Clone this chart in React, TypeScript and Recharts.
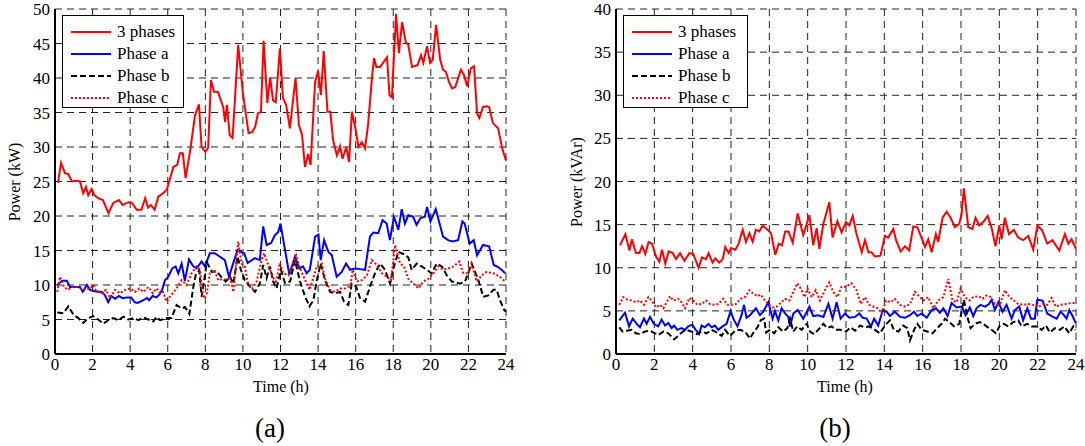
import React from 'react';
import { LineChart, Line, XAxis, YAxis, CartesianGrid } from 'recharts';

// time (h) vs power
const timeTicks = [0, 2, 4, 6, 8, 10, 12, 14, 16, 18, 20, 22, 24];
const kwTicks = [0, 5, 10, 15, 20, 25, 30, 35, 40, 45, 50];
const kvarTicks = [0, 5, 10, 15, 20, 25, 30, 35, 40];

const legendNames = ['3 phases', 'Phase a', 'Phase b', 'Phase c'];

// (a) active power, kW
const kwTotal: [number, number][] = [
  [0.16, 24.8], [0.32, 27.7], [0.53, 26.2], [0.7, 26.1], [0.9, 25], [1.1, 25.1], [1.33, 25], [1.5, 23.3], [1.65, 24.2], [1.77, 23],
  [1.95, 23.9], [2.1, 23], [2.3, 22.6], [2.55, 22.3], [2.85, 20.4], [3.1, 21.9], [3.4, 22.3], [3.6, 21.6], [3.9, 22], [4.1, 21.9],
  [4.35, 20.9], [4.6, 20.9], [4.8, 22.6], [4.95, 21.2], [5.1, 21.6], [5.3, 20.9], [5.5, 22.8], [5.75, 23.3], [5.95, 23.8], [6.3, 27.1],
  [6.5, 27.4], [6.65, 29.1], [6.8, 29.1], [6.95, 25.5], [7.2, 29.6], [7.45, 34.6], [7.66, 36.2], [7.8, 30], [8.0, 29.3], [8.15, 29.9],
  [8.3, 39.7], [8.46, 38], [8.67, 38], [8.95, 35.8], [9.05, 33.6], [9.15, 36.1], [9.3, 31.7], [9.45, 31.3], [9.75, 44.8], [10.0, 37.8],
  [10.3, 32], [10.5, 32.2], [10.65, 32.9], [10.8, 34.9], [10.96, 35.1], [11.1, 45.4], [11.3, 36.4], [11.45, 40.1], [11.6, 36.8], [11.75, 36.5],
  [11.97, 44.3], [12.13, 37.1], [12.3, 36.1], [12.5, 32.7], [12.8, 40], [12.98, 33.2], [13.15, 31.7], [13.3, 27.1], [13.47, 29], [13.6, 27.4],
  [13.84, 39.4], [14, 41], [14.15, 37.5], [14.3, 43.9], [14.5, 35.1], [14.65, 35.1], [14.8, 31], [15, 28.8], [15.17, 30.1], [15.3, 28.3],
  [15.5, 30], [15.65, 27.8], [15.8, 35.1], [16, 32.5], [16.15, 30], [16.33, 30.7], [16.5, 29.8], [16.66, 33.2], [16.87, 40.1], [16.98, 42.9],
  [17.1, 41.6], [17.3, 41.6], [17.56, 42.6], [17.67, 43], [17.8, 37.5], [17.93, 37.2], [18.15, 49.3], [18.3, 43.6], [18.47, 48.1], [18.67, 45.2],
  [18.8, 44.8], [19, 41.6], [19.3, 41.9], [19.48, 43.3], [19.6, 42.2], [19.8, 44.6], [19.96, 42.2], [20.1, 42.6], [20.28, 47.7], [20.5, 42.6],
  [20.65, 41.2], [20.8, 40.9], [20.97, 39.4], [21.13, 38.5], [21.3, 38.7], [21.6, 41.2], [21.77, 40.4], [21.93, 38.8], [22.13, 41.4], [22.3, 41.7],
  [22.46, 34.9], [22.58, 34.2], [22.78, 35.8], [22.98, 35.9], [23.1, 35.8], [23.3, 33.5], [23.58, 32.7], [23.8, 29.8], [24, 28],
];

const kwPhaseA: [number, number][] = [
  [0.12, 10], [0.37, 10.6], [0.63, 10.6], [0.8, 9.7], [1.33, 9.7], [1.48, 9], [1.7, 10], [1.86, 9.3], [2.1, 9.1], [2.5, 9],
  [2.66, 8.5], [2.83, 7.5], [3, 8.4], [3.2, 8], [3.4, 8.4], [3.6, 8.1], [3.8, 8.2], [4.05, 8.2], [4.25, 7.5], [4.4, 7.4],
  [4.7, 7.8], [4.9, 8.1], [5, 7.8], [5.2, 8.4], [5.4, 8.2], [5.55, 8.6], [5.7, 9.3], [5.85, 10.7], [6.03, 11.2], [6.24, 12.4],
  [6.42, 12.7], [6.56, 11.7], [6.74, 13.1], [6.91, 10.6], [7.13, 13.7], [7.36, 12.7], [7.54, 12.4], [7.8, 13.4], [7.98, 12.7], [8.24, 14.6],
  [8.5, 14.6], [8.78, 14.1], [9.04, 13.6], [9.26, 11.2], [9.49, 13.2], [9.72, 15.1], [9.89, 14.8], [10.07, 14.6], [10.25, 13.2], [10.64, 13.9],
  [10.9, 13.6], [11.08, 18.5], [11.26, 15.8], [11.5, 16.1], [11.7, 17.2], [11.88, 17.7], [12.0, 18.9], [12.24, 15.1], [12.47, 11.5], [12.77, 14.1],
  [13, 12.4], [13.2, 12.7], [13.39, 11.7], [13.56, 12.2], [13.84, 17], [14.02, 17.3], [14.14, 13.6], [14.32, 16.5], [14.55, 14.8], [14.73, 14.3],
  [14.99, 11.2], [15.26, 11.9], [15.49, 13.1], [15.7, 12.2], [15.97, 12.4], [16.24, 12.3], [16.5, 12.2], [16.76, 17], [16.94, 17.6], [17.2, 17.5],
  [17.43, 19.4], [17.65, 18.9], [17.82, 16.5], [18.04, 19.9], [18.27, 18], [18.45, 21], [18.62, 18.9], [18.8, 20.1], [19.06, 19.9], [19.24, 18.7],
  [19.45, 19.7], [19.68, 19.9], [19.8, 21.3], [19.98, 19.2], [20.26, 21], [20.65, 17], [20.92, 16.5], [21.15, 16.3], [21.45, 16.5], [21.68, 19.2],
  [21.8, 18.9], [22.07, 16], [22.28, 16.5], [22.46, 14.3], [22.78, 15.8], [23.1, 15.6], [23.35, 12.9], [23.58, 12.6], [23.76, 12.2], [23.96, 11.7],
];

const kwPhaseB: [number, number][] = [
  [0.12, 6], [0.45, 5.9], [0.71, 6.9], [0.98, 5.7], [1.24, 5.2], [1.51, 4.5], [1.77, 5.2], [2.04, 5.5], [2.3, 5], [2.57, 4.4],
  [2.84, 4.9], [3.1, 5.2], [3.37, 4.9], [3.64, 5.4], [3.9, 5], [4.17, 5.2], [4.44, 4.9], [4.7, 5.3], [4.97, 5], [5.23, 4.7],
  [5.41, 5.4], [5.59, 4.9], [5.94, 5.2], [6.2, 5.2], [6.47, 7.1], [6.74, 6.6], [6.92, 6.8], [7.15, 5.8], [7.36, 9.7], [7.5, 11.6],
  [7.68, 12.1], [7.8, 8.3], [7.93, 10.5], [8.08, 13.3], [8.35, 11.9], [8.6, 12], [8.87, 11.1], [9.08, 10.5], [9.31, 11.2], [9.49, 10.2],
  [9.72, 14.1], [9.89, 12.2], [10.1, 10.7], [10.37, 9.8], [10.64, 9], [10.9, 10.2], [11.08, 12.9], [11.26, 11], [11.44, 12.7], [11.61, 10.5],
  [11.79, 9.5], [12.02, 12.2], [12.24, 10.3], [12.51, 10.5], [12.77, 13.6], [13.04, 10.5], [13.31, 8.3], [13.54, 6.9], [13.75, 7.8], [13.93, 10.7],
  [14.14, 13.1], [14.37, 10.7], [14.64, 9], [14.9, 8.8], [15.17, 9], [15.38, 7.6], [15.61, 7.1], [15.79, 10.2], [16.02, 9.8], [16.23, 8.1],
  [16.5, 7.6], [16.77, 9.8], [17.03, 11.7], [17.3, 13.1], [17.56, 12.2], [17.83, 10.2], [18.01, 12.4], [18.27, 14.8], [18.54, 14.5], [18.8, 14],
  [18.98, 12.2], [19.25, 13.1], [19.51, 12.7], [19.78, 12.2], [20.05, 11.7], [20.31, 13.1], [20.58, 12.7], [20.85, 11.4], [21.12, 10.5], [21.55, 10.2],
  [21.82, 10.5], [22.17, 13.1], [22.53, 10.7], [22.79, 8.3], [23.06, 8.5], [23.33, 9.3], [23.5, 9.3], [23.68, 7.8], [23.9, 6.4], [24, 6.1],
];

const kwPhaseC: [number, number][] = [
  [0.12, 9], [0.27, 11.2], [0.48, 9.7], [0.71, 9.3], [0.89, 9.7], [1.15, 9.7], [1.42, 9.5], [1.65, 9.3], [1.86, 9.5], [2.04, 10],
  [2.22, 9], [2.48, 8.8], [2.71, 9.3], [2.93, 8.1], [3.2, 9.3], [3.46, 8.8], [3.73, 9.3], [4, 9.5], [4.26, 9], [4.49, 9.5],
  [4.7, 9], [4.97, 9.7], [5.2, 8.8], [5.41, 9.5], [5.6, 8.8], [5.75, 9], [5.94, 7.6], [6.2, 8.6], [6.47, 9.5], [6.74, 10.7],
  [7, 10], [7.27, 11.7], [7.54, 12.7], [7.71, 12.2], [7.89, 8.1], [8.07, 8.6], [8.24, 11.7], [8.48, 12.2], [8.69, 10.7], [8.95, 10.9],
  [9.13, 10.7], [9.31, 11.2], [9.49, 9], [9.75, 16.3], [9.93, 13.1], [10.1, 12.7], [10.28, 10], [10.5, 9.5], [10.73, 10.5], [10.99, 13.6],
  [11.13, 14.6], [11.35, 12.9], [11.52, 11.7], [11.74, 10.2], [11.97, 13.2], [12.15, 11.7], [12.42, 11.4], [12.6, 12.7], [12.83, 14.3], [13.04, 12.4],
  [13.31, 10.7], [13.54, 9.3], [13.71, 10.7], [13.93, 12.7], [14.2, 13.1], [14.37, 10.9], [14.64, 9.3], [14.9, 9], [15.17, 9.5], [15.44, 9.5],
  [15.71, 9.8], [15.85, 12.2], [16.06, 10.5], [16.33, 10.7], [16.6, 11.4], [16.86, 13.6], [17.13, 12.9], [17.4, 11.7], [17.67, 11.2], [17.88, 10.7],
  [18.1, 15.8], [18.36, 13.1], [18.57, 12.7], [18.8, 10.9], [19.07, 10.2], [19.34, 9.5], [19.6, 10.5], [19.87, 10.9], [20.13, 11.7], [20.4, 12.7],
  [20.67, 12.2], [20.93, 12.4], [21.2, 12.7], [21.52, 13.4], [21.73, 11.7], [22, 11.7], [22.17, 13.1], [22.44, 10.5], [22.71, 11.4], [22.97, 11.9],
  [23.33, 11.7], [23.68, 11.2], [23.95, 10.5],
];

// (b) reactive power, kVAr
const kvarTotal: [number, number][] = [
  [0.21, 12.6], [0.49, 13.9], [0.7, 12], [0.83, 13.3], [1.04, 11.7], [1.22, 11.7], [1.36, 12.5], [1.53, 11.6], [1.7, 13], [1.88, 12.8],
  [2.09, 11.3], [2.26, 10.7], [2.4, 12.1], [2.57, 10.5], [2.75, 11.9], [2.96, 11.7], [3.13, 11], [3.34, 11.7], [3.57, 10.8], [3.83, 11.7],
  [4.03, 11.6], [4.31, 10], [4.49, 11.2], [4.7, 11], [4.83, 11.7], [5.04, 10.6], [5.18, 11.1], [5.39, 10.6], [5.57, 11], [5.7, 12.4],
  [5.88, 11.7], [6, 12.3], [6.23, 12.1], [6.4, 12.8], [6.61, 14.4], [6.78, 13], [6.96, 14], [7.13, 13], [7.3, 14.4], [7.48, 14.2],
  [7.65, 14.9], [7.91, 14.4], [8.09, 14], [8.31, 11.5], [8.49, 12.8], [8.66, 12.6], [8.83, 14.2], [9, 14.2], [9.22, 12.9], [9.48, 16.3],
  [9.77, 13.8], [10.09, 16.1], [10.29, 12.6], [10.47, 14.6], [10.61, 12.2], [10.82, 15.1], [11.13, 17.6], [11.3, 13.5], [11.55, 15.4], [11.77, 14.1],
  [12, 15.3], [12.17, 14.9], [12.35, 16], [12.55, 13.9], [12.82, 11.8], [12.99, 13.2], [13.17, 11.8], [13.33, 11.8], [13.51, 11.3], [13.8, 11.4],
  [14.03, 13.7], [14.2, 13.5], [14.47, 14.5], [14.61, 13.2], [14.85, 11.9], [15.08, 12.5], [15.3, 12], [15.51, 14.8], [15.72, 14.7], [15.94, 13.5],
  [16.12, 12.4], [16.29, 13.3], [16.47, 11.8], [16.69, 13.9], [16.81, 13], [17.04, 15.8], [17.25, 16.5], [17.46, 15.8], [17.68, 14.7], [17.91, 15.1],
  [18.03, 16.2], [18.15, 19.2], [18.38, 14.7], [18.59, 14.5], [18.76, 15.8], [18.95, 14.9], [19.16, 15.3], [19.39, 16], [19.6, 14.6], [19.8, 12.5],
  [20, 14.9], [20.12, 13.3], [20.29, 15.8], [20.5, 13.9], [20.76, 14.4], [20.98, 13.5], [21.24, 13.2], [21.51, 13.7], [21.77, 12.1], [21.99, 14.9],
  [22.24, 14.3], [22.5, 12.8], [22.77, 13.2], [23.13, 12], [23.42, 13.9], [23.6, 12.8], [23.77, 13.3], [24, 12.2],
];

const kvarPhaseA: [number, number][] = [
  [0.17, 3.9], [0.47, 4.8], [0.68, 3.2], [0.87, 4.1], [1.08, 3.5], [1.25, 3.1], [1.46, 4.1], [1.6, 3.5], [1.77, 4.3], [1.98, 3.5],
  [2.2, 3.2], [2.38, 4], [2.56, 3.3], [2.73, 3.6], [2.9, 3], [3.03, 3.3], [3.2, 2.8], [3.42, 3], [3.6, 2.8], [3.77, 3.2],
  [3.98, 3.4], [4.16, 2.8], [4.33, 2.3], [4.47, 3.3], [4.64, 3.1], [4.82, 3.5], [4.99, 3.1], [5.16, 3.3], [5.34, 2.8], [5.56, 3.2],
  [5.77, 3.5], [5.98, 5], [6.12, 4.1], [6.34, 3.2], [6.55, 4.5], [6.68, 5.7], [6.81, 4.2], [6.99, 4.5], [7.3, 5.3], [7.51, 4.5],
  [7.68, 4.9], [7.95, 6], [8.17, 4.1], [8.29, 5], [8.47, 3.9], [8.64, 5.3], [8.82, 4.7], [8.99, 4.3], [9.08, 3.2], [9.25, 4.7],
  [9.48, 5.1], [9.77, 4.1], [10.09, 5.5], [10.29, 4.4], [10.55, 4.5], [10.82, 4.3], [11.08, 5.8], [11.3, 4.1], [11.51, 6], [11.72, 4.1],
  [11.95, 4.7], [12.17, 4.2], [12.47, 4.3], [12.69, 4.7], [12.87, 4.2], [13.08, 4.1], [13.3, 3.2], [13.47, 4.1], [13.68, 3.3], [13.91, 5],
  [14.12, 4.9], [14.29, 4.4], [14.55, 4.9], [14.82, 4.3], [15.08, 4.2], [15.34, 4.5], [15.55, 4.9], [15.72, 4.4], [15.95, 4.7], [16.21, 4.2],
  [16.47, 5.1], [16.69, 5.3], [16.9, 4.8], [17.08, 5.3], [17.3, 4.4], [17.51, 5.9], [17.77, 5.4], [18.03, 5.5], [18.24, 4.5], [18.46, 5.4],
  [18.64, 4.4], [18.81, 5.3], [19.02, 5.7], [19.25, 5.5], [19.46, 5.8], [19.6, 6.3], [19.77, 5.1], [19.95, 6], [20.17, 4.9], [20.38, 5.7],
  [20.64, 4.1], [20.81, 5.1], [21.04, 5.5], [21.24, 3.9], [21.46, 5.3], [21.65, 4.1], [21.85, 4.1], [21.98, 6.3], [22.26, 6.2], [22.5, 4.7],
  [22.73, 4.4], [22.99, 4.1], [23.19, 4.9], [23.34, 4.6], [23.51, 4.1], [23.65, 5.1], [23.82, 4.4], [23.98, 3.6],
];

const kvarPhaseB: [number, number][] = [
  [0.17, 3.1], [0.35, 2.6], [0.56, 2.7], [0.82, 2.8], [1.04, 2.4], [1.25, 2.3], [1.51, 2.6], [1.77, 2.7], [2.03, 2.4], [2.21, 2.2],
  [2.47, 2.6], [2.73, 2.4], [3.03, 1.7], [3.25, 2.1], [3.48, 2.6], [3.68, 2.8], [3.95, 2.6], [4.21, 2.3], [4.47, 2.6], [4.73, 2.4],
  [4.99, 2.8], [5.25, 2.5], [5.51, 2.1], [5.69, 2.8], [5.95, 2.1], [6.21, 2.7], [6.47, 2.8], [6.73, 2.6], [6.99, 1.8], [7.2, 2.6],
  [7.38, 3.1], [7.55, 3.9], [7.73, 4.1], [7.83, 2.5], [8.04, 2.8], [8.25, 2.4], [8.47, 3.1], [8.73, 2.6], [8.94, 3], [9.08, 4.1],
  [9.25, 2.6], [9.46, 3.2], [9.68, 2.8], [9.95, 3.5], [10.12, 2.6], [10.33, 2.3], [10.55, 2.8], [10.82, 3.5], [11.02, 3], [11.25, 3.2],
  [11.47, 2.8], [11.72, 2.8], [12, 2.6], [12.24, 3.1], [12.47, 2.7], [12.73, 3.3], [12.95, 3.1], [13.21, 3.2], [13.51, 2.8], [13.77, 2.4],
  [14.03, 3.3], [14.29, 3.9], [14.5, 2.8], [14.73, 2.6], [14.99, 3.3], [15.2, 3], [15.34, 1.6], [15.55, 2.8], [15.72, 3.5], [15.95, 2.8],
  [16.24, 2.6], [16.52, 2.4], [16.76, 3], [16.99, 3.5], [17.17, 4.1], [17.39, 3.7], [17.64, 3.2], [17.91, 3.5], [18.15, 6.3], [18.33, 4.3],
  [18.5, 3], [18.73, 3.5], [18.99, 3.7], [19.16, 3.5], [19.33, 3.2], [19.6, 2.8], [19.82, 2.4], [20.03, 3.3], [20.24, 3.5], [20.47, 3.2],
  [20.73, 3.7], [20.99, 3.9], [21.16, 3.2], [21.46, 3.5], [21.68, 3.2], [21.95, 3.2], [22.21, 2.8], [22.43, 3.3], [22.64, 2.5], [22.9, 3],
  [23.16, 2.8], [23.39, 3.2], [23.65, 2.4], [23.86, 3.2], [23.98, 2.8],
];

const kvarPhaseC: [number, number][] = [
  [0.17, 5.7], [0.38, 6.6], [0.59, 6.3], [0.82, 6.2], [1.04, 6], [1.25, 6.2], [1.46, 5.7], [1.69, 6.6], [1.86, 6.2], [2.09, 5.4],
  [2.3, 5.7], [2.47, 5.3], [2.64, 6], [2.82, 6.7], [2.99, 6.2], [3.25, 6.4], [3.42, 6], [3.6, 5.3], [3.83, 6.5], [4.03, 6.2],
  [4.25, 5.7], [4.47, 5.8], [4.7, 6.2], [4.9, 5.8], [5.16, 5.7], [5.34, 5.8], [5.6, 6.4], [5.81, 5.7], [6.03, 5.7], [6.26, 5.8],
  [6.5, 6.4], [6.73, 6.6], [6.96, 7.4], [7.16, 7], [7.38, 6.7], [7.55, 6.9], [7.77, 6.2], [8, 5.7], [8.17, 5.4], [8.38, 5.5],
  [8.59, 5.9], [8.82, 6.4], [9.04, 6.2], [9.25, 7.2], [9.46, 8.2], [9.64, 7.6], [9.83, 6.6], [9.99, 7.6], [10.21, 6.6], [10.42, 7.4],
  [10.64, 6.2], [10.9, 7.4], [11.13, 8.3], [11.34, 7.2], [11.55, 6.6], [11.77, 7.8], [12, 7.8], [12.29, 8.2], [12.55, 7.4], [12.77, 5.8],
  [12.99, 6.6], [13.21, 5.7], [13.42, 5.5], [13.68, 5.3], [13.86, 4.7], [14.09, 6.2], [14.33, 6], [14.55, 6.4], [14.82, 5.7], [15.08, 5.5],
  [15.34, 5.8], [15.6, 7.2], [15.77, 6.8], [16.03, 6.2], [16.29, 6.6], [16.55, 5.3], [16.81, 6.2], [17.08, 6.6], [17.34, 8.7], [17.56, 6.2],
  [17.77, 6], [17.98, 7.6], [18.2, 6.6], [18.43, 6.2], [18.64, 6.6], [18.9, 6.7], [19.13, 6.4], [19.34, 6.8], [19.55, 6.6], [19.77, 5.8],
  [20.03, 5.7], [20.29, 7.4], [20.52, 6.6], [20.76, 6.2], [20.99, 5.8], [21.24, 5.7], [21.51, 5.8], [21.77, 5.7], [22.03, 5.4], [22.26, 5.8],
  [22.5, 5.7], [22.73, 6.5], [22.95, 5.5], [23.19, 5.7], [23.47, 5.8], [23.72, 5.9], [23.98, 5.9],
];

const FONT = '"Liberation Serif", "Times New Roman", serif';

// line styles, same order as legendNames
const styles = [
  { stroke: '#ff0000', dash: undefined as string | undefined },
  { stroke: '#0000ff', dash: undefined as string | undefined },
  { stroke: '#000000', dash: '6 3' },
  { stroke: '#ff0000', dash: '2 2' },
];

const toRows = (pairs: [number, number][]) => pairs.map(([t, v]) => ({ t, v }));

function LegendBox({ left, top, width }: { left: number; top: number; width: number }) {
  return (
    <div
      style={{
        position: 'absolute',
        left,
        top,
        width,
        height: 93,
        boxSizing: 'border-box',
        border: '1px solid #000',
        background: '#fff',
        paddingTop: 5,
        fontFamily: FONT,
        fontSize: 17,
      }}
    >
      {legendNames.map((name, i) => (
        <div key={name} style={{ height: 22, display: 'flex', alignItems: 'center' }}>
          <svg width={54} height={22} style={{ flex: 'none' }}>
            <line x1={8} x2={48} y1={11} y2={11} stroke={styles[i].stroke} strokeWidth={2} strokeDasharray={styles[i].dash} />
          </svg>
          <span style={{ whiteSpace: 'nowrap' }}>{name}</span>
        </div>
      ))}
    </div>
  );
}

interface PanelProps {
  left: number;
  width: number;
  margin: { top: number; right: number; left: number; bottom: number };
  yMax: number;
  yTicks: number[];
  series: [number, number][][];
}

function Panel({ left, width, margin, yMax, yTicks, series }: PanelProps) {
  const tickStyle = { fill: '#000', fontSize: 17, fontFamily: FONT };
  return (
    <div style={{ position: 'absolute', left, top: 0 }}>
      <LineChart width={width} height={380} margin={margin}>
        <CartesianGrid stroke="#222" strokeWidth={1} strokeDasharray="7 5" />
        <XAxis
          dataKey="t"
          type="number"
          domain={[0, 24]}
          ticks={timeTicks}
          interval={0}
          height={26}
          tickSize={0}
          tickMargin={4}
          tick={tickStyle}
          axisLine={{ stroke: '#000', strokeWidth: 2 }}
        />
        <XAxis
          xAxisId="top"
          orientation="top"
          type="number"
          domain={[0, 24]}
          ticks={timeTicks}
          height={0}
          tick={false}
          tickLine={false}
          axisLine={{ stroke: '#000', strokeWidth: 1.5 }}
        />
        <YAxis
          type="number"
          domain={[0, yMax]}
          ticks={yTicks}
          interval={0}
          width={40}
          tickSize={0}
          tickMargin={5}
          tick={tickStyle}
          axisLine={{ stroke: '#000', strokeWidth: 2 }}
        />
        <YAxis
          yAxisId="right"
          orientation="right"
          type="number"
          domain={[0, yMax]}
          ticks={yTicks}
          width={0}
          tick={false}
          tickLine={false}
          axisLine={{ stroke: '#000', strokeWidth: 1.5 }}
        />
        {series.map((pairs, i) => (
          <Line
            key={legendNames[i]}
            data={toRows(pairs)}
            dataKey="v"
            name={legendNames[i]}
            type="linear"
            stroke={styles[i].stroke}
            strokeWidth={2}
            strokeDasharray={styles[i].dash}
            dot={false}
            activeDot={false}
            isAnimationActive={false}
          />
        ))}
      </LineChart>
    </div>
  );
}

const textBase: React.CSSProperties = {
  position: 'absolute',
  fontFamily: FONT,
  color: '#000',
  whiteSpace: 'nowrap',
  transform: 'translate(-50%, -50%)',
};

export default function App() {
  return (
    <div style={{ position: 'absolute', left: 0, top: 0, width: 1085, height: 446, background: '#fff', overflow: 'hidden' }}>
      <Panel
        left={0}
        width={520}
        margin={{ top: 9, right: 14, left: 15, bottom: 0 }}
        yMax={50}
        yTicks={kwTicks}
        series={[kwTotal, kwPhaseA, kwPhaseB, kwPhaseC]}
      />
      <Panel
        left={560}
        width={525}
        margin={{ top: 9, right: 9, left: 16, bottom: 0 }}
        yMax={40}
        yTicks={kvarTicks}
        series={[kvarTotal, kvarPhaseA, kvarPhaseB, kvarPhaseC]}
      />
      <LegendBox left={62} top={15} width={122} />
      <LegendBox left={623} top={15} width={125} />

      <div style={{ ...textBase, left: 15, top: 182, fontSize: 16, transform: 'translate(-50%, -50%) rotate(-90deg)' }}>Power (kW)</div>
      <div style={{ ...textBase, left: 577, top: 182, fontSize: 16, transform: 'translate(-50%, -50%) rotate(-90deg)' }}>Power (kVAr)</div>
      <div style={{ ...textBase, left: 281, top: 387, fontSize: 16 }}>Time (h)</div>
      <div style={{ ...textBase, left: 845, top: 387, fontSize: 16 }}>Time (h)</div>
      <div style={{ ...textBase, left: 270, top: 428, fontSize: 27 }}>(a)</div>
      <div style={{ ...textBase, left: 835, top: 428, fontSize: 27 }}>(b)</div>
    </div>
  );
}
